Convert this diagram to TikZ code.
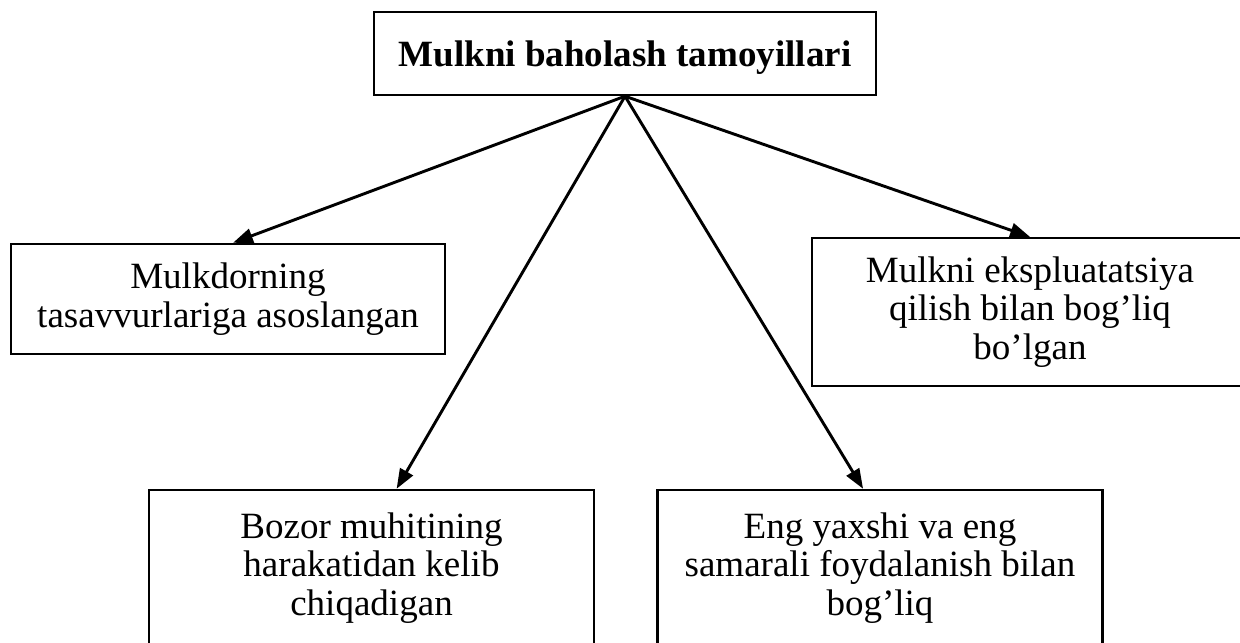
\documentclass[tikz,border=0pt]{standalone}
\usepackage{fontspec}
\setmainfont{Liberation Serif}
\usetikzlibrary{arrows.meta}
\begin{document}
\begin{tikzpicture} [x=0.378pt,y=-0.378pt,myb/.style={rectangle, draw, inner sep=0pt,line width=0.9pt,align=center,font=\fontsize{14pt}{14.6pt}\selectfont},mya/.style={line width=1.1pt,-{Triangle[length=7.5pt,width=5.5pt]}}]
  \useasboundingbox (0,0) rectangle (1240,643);
  \clip (0,0) rectangle (1240,643);

  \node[myb,minimum width=189.8pt,minimum height=31.4pt,text depth=0pt,font=\fontsize{14pt}{14.6pt}\selectfont\bfseries] (t) at (625,53.5) {Mulkni baholash tamoyillari};

  \node[myb,minimum width=164.1pt,minimum height=41.6pt] (l) at (228,299) {Mulkdorning\\tasavvurlariga asoslangan};
  \node[myb,minimum width=164.8pt,minimum height=55.9pt] (r) at (1030,312) {Mulkni ekspluatatsiya\\qilish bilan bog’liq\\bo’lgan};

  \node[myb,minimum width=168.2pt,minimum height=59pt] (bl) at (371.5,568) {Bozor muhitining\\harakatidan kelib\\chiqadigan};
  \node[myb,minimum width=168.2pt,minimum height=59pt] (br) at (880,568) {Eng yaxshi va eng\\samarali foydalanish bilan\\bog’liq};

    \draw[mya] (t.south) -- ([xshift=1.9pt]l.north);
    \draw[mya] (t.south) -- ([xshift=9.5pt]bl.north);
    \draw[mya] (t.south) -- ([xshift=-6.4pt]br.north);
    \draw[mya] (t.south) -- (r.north);

\end{tikzpicture}
\end{document}
